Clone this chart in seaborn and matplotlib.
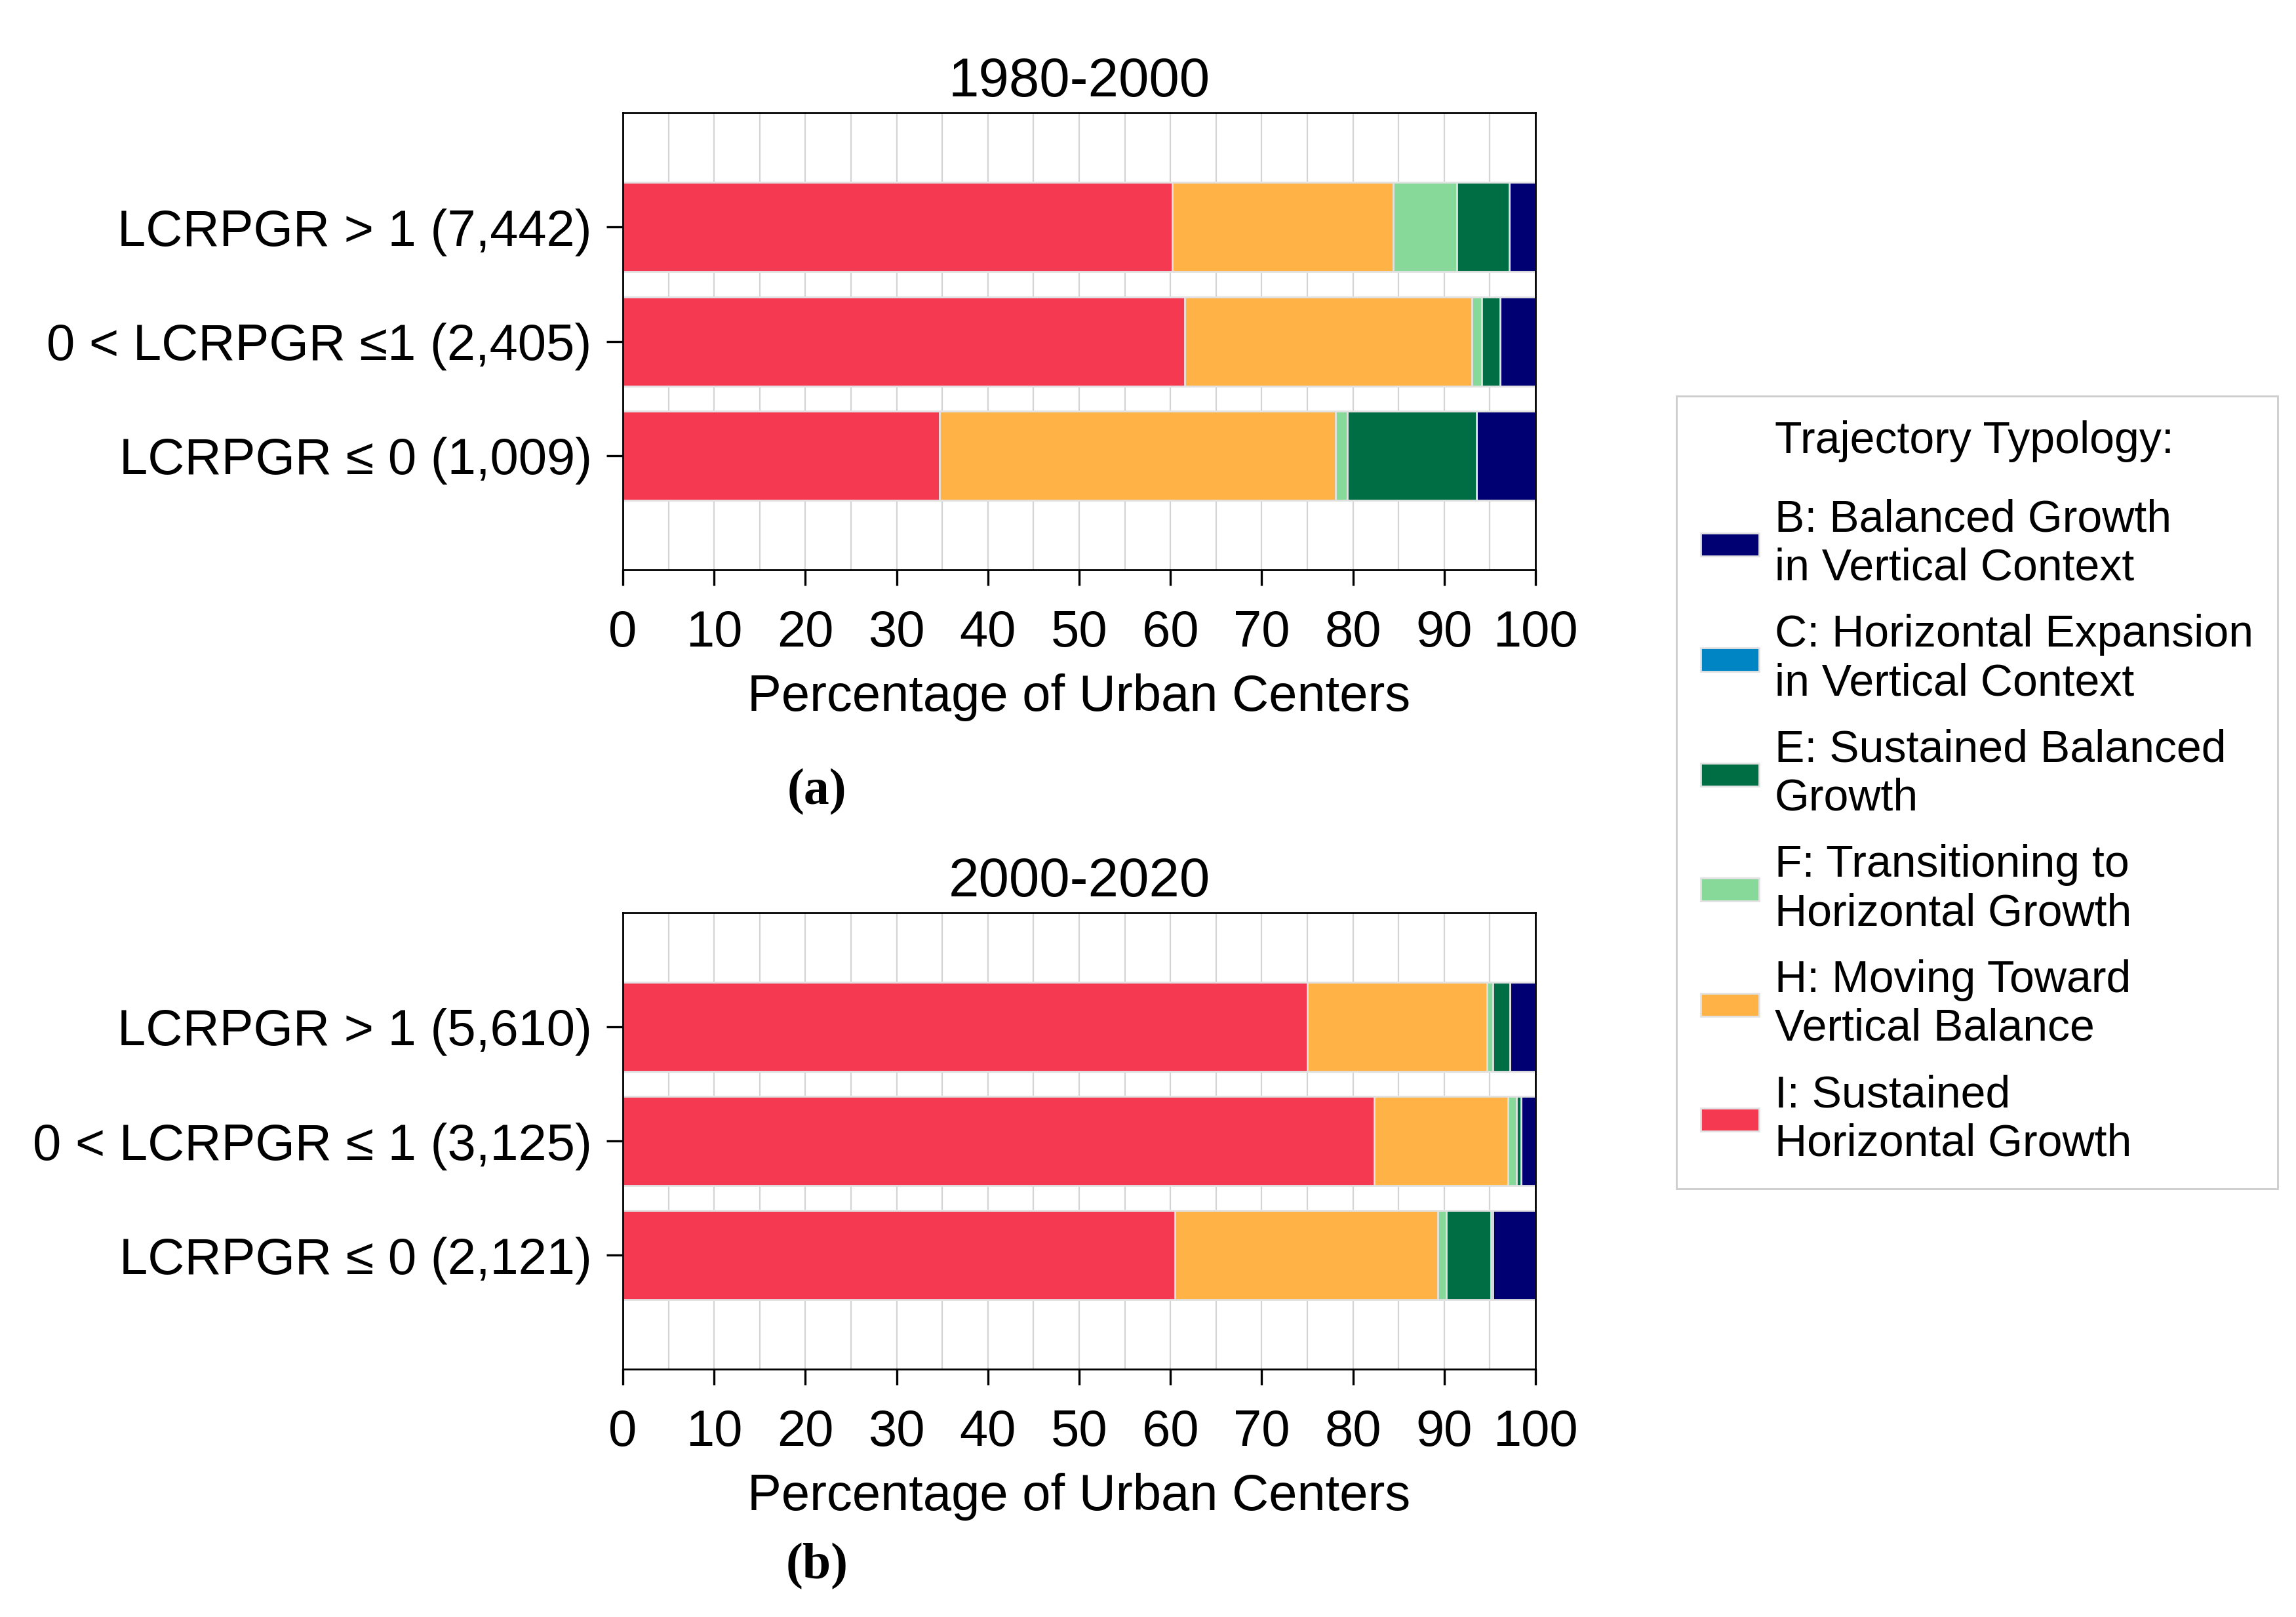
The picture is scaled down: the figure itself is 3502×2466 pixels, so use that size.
import numpy as np
import pandas as pd
import matplotlib
matplotlib.use("Agg")
import matplotlib.pyplot as plt
from matplotlib.patches import Patch
from matplotlib.ticker import MultipleLocator
import seaborn as sns

# ---------------- data ----------------
codes = ["I", "H", "F", "E", "C", "B"]          # stacking order, left to right
legend_labels = {
    "B": "B: Balanced Growth\nin Vertical Context",
    "C": "C: Horizontal Expansion\nin Vertical Context",
    "E": "E: Sustained Balanced\nGrowth",
    "F": "F: Transitioning to\nHorizontal Growth",
    "H": "H: Moving Toward\nVertical Balance",
    "I": "I: Sustained\nHorizontal Growth",
}
colors = {
    "B": "#000072",
    "C": "#0085c4",
    "E": "#006e44",
    "F": "#86d998",
    "H": "#ffb245",
    "I": "#f53950",
}

groups_a = ["LCRPGR > 1 (7,442)", "0 < LCRPGR \u22641 (2,405)", "LCRPGR \u2264 0 (1,009)"]
I_a = [60.2, 61.6, 34.7]
H_a = [24.2, 31.4, 43.4]
F_a = [7.0, 1.1, 1.3]
E_a = [5.7, 2.0, 14.1]
C_a = [0.0, 0.0, 0.0]
B_a = [2.9, 3.9, 6.5]

groups_b = ["LCRPGR > 1 (5,610)", "0 < LCRPGR \u2264 1 (3,125)", "LCRPGR \u2264 0 (2,121)"]
I_b = [75.0, 82.3, 60.5]
H_b = [19.7, 14.7, 28.8]
F_b = [0.6, 0.9, 0.9]
E_b = [1.9, 0.5, 4.9]
C_b = [0.0, 0.0, 0.2]
B_b = [2.8, 1.6, 4.7]

titles = ["1980-2000", "2000-2020"]
panel_tags = ["(a)", "(b)"]
xlabel = "Percentage of Urban Centers"
legend_title = "Trajectory Typology:"

# ---------------- style ----------------
sns.set_style("white")
plt.rcParams["font.family"] = ["Liberation Sans", "DejaVu Sans"]
for k in ["text.color", "axes.labelcolor", "xtick.color", "ytick.color", "axes.edgecolor"]:
    plt.rcParams[k] = "black"

W, H = 3502, 2466
DPI = 200
fig = plt.figure(figsize=(W / DPI, H / DPI), dpi=DPI)

left = 950 / W
width = 1392 / W
height = 0.2826
ax_a = fig.add_axes([left, 0.6476, width, height])
ax_b = fig.add_axes([left, 0.1531, width, height])


def make_df(groups, I, Hh, F, E, C, B):
    vals = {"I": I, "H": Hh, "F": F, "E": E, "C": C, "B": B}
    rows = []
    for gi, g in enumerate(groups):
        cum = 0.0
        for c in codes:
            cum += vals[c][gi]
            rows.append({"group": g, "code": c, "value": vals[c][gi], "cum": cum})
    return pd.DataFrame(rows)


df_a = make_df(groups_a, I_a, H_a, F_a, E_a, C_a, B_a)
df_b = make_df(groups_b, I_b, H_b, F_b, E_b, C_b, B_b)

FS = 28
for ax, df, groups, title in [(ax_a, df_a, groups_a, titles[0]), (ax_b, df_b, groups_b, titles[1])]:
    ax.set_axisbelow(True)
    # draw rightmost cumulative first so shorter layers sit on top
    for c in reversed(codes):
        sub = df[df["code"] == c]
        sns.barplot(data=sub, x="cum", y="group", order=groups, orient="h",
                    color=colors[c], saturation=1, width=0.78, errorbar=None,
                    edgecolor="#e2e2e2", linewidth=1.0, ax=ax)
    ax.set_xlim(0, 100)
    ax.set_ylim(3.0, -1.0)
    ax.xaxis.set_major_locator(MultipleLocator(10))
    ax.xaxis.set_minor_locator(MultipleLocator(5))
    ax.grid(True, axis="x", which="both", color="#d4d4d4", linewidth=0.8)
    ax.grid(False, axis="y")
    ax.tick_params(axis="x", which="major", direction="out", length=8.5, width=1.2,
                   labelsize=FS, pad=13, bottom=True, colors="black")
    ax.tick_params(axis="x", which="minor", length=0)
    ax.tick_params(axis="y", which="major", direction="out", length=9, width=1.2,
                   labelsize=FS, pad=8, left=True, colors="black")
    for s in ax.spines.values():
        s.set_visible(True)
        s.set_color("black")
        s.set_linewidth(1.0)
    ax.set_ylabel("")
    ax.set_xlabel(xlabel, fontsize=FS, labelpad=9, color="black")
    ax.set_title(title, fontsize=30, pad=9, color="black")

# panel tags
fig.text(1246 / W, 1 - 1208 / H, panel_tags[0], fontsize=28, fontweight="bold",
         family="Liberation Serif", ha="center", va="center", color="black")
fig.text(1246 / W, 1 - 2389 / H, panel_tags[1], fontsize=28, fontweight="bold",
         family="Liberation Serif", ha="center", va="center", color="black")

# legend
handles = [Patch(facecolor="none", edgecolor="none")]
labels = [legend_title + "\n "]
for c in ["B", "C", "E", "F", "H", "I"]:
    handles.append(Patch(facecolor=colors[c], edgecolor="#e2e2e2", linewidth=1.0))
    labels.append(legend_labels[c])

leg = fig.legend(handles, labels, loc="upper left",
                 bbox_to_anchor=(2557 / W, 1 - 604 / H), bbox_transform=fig.transFigure,
                 borderaxespad=0, fontsize=24.5, frameon=True, fancybox=False,
                 framealpha=1, edgecolor="#cccccc", handlelength=1.3, handleheight=0.42,
                 handletextpad=0.35, labelspacing=0.55, borderpad=0.55)
leg.get_frame().set_linewidth(1.0)
texts = leg.get_texts()
texts[0].set_linespacing(0.08)
for t in texts[1:]:
    t.set_linespacing(1.2)

fig.savefig("out.png", dpi=DPI, facecolor="white")
